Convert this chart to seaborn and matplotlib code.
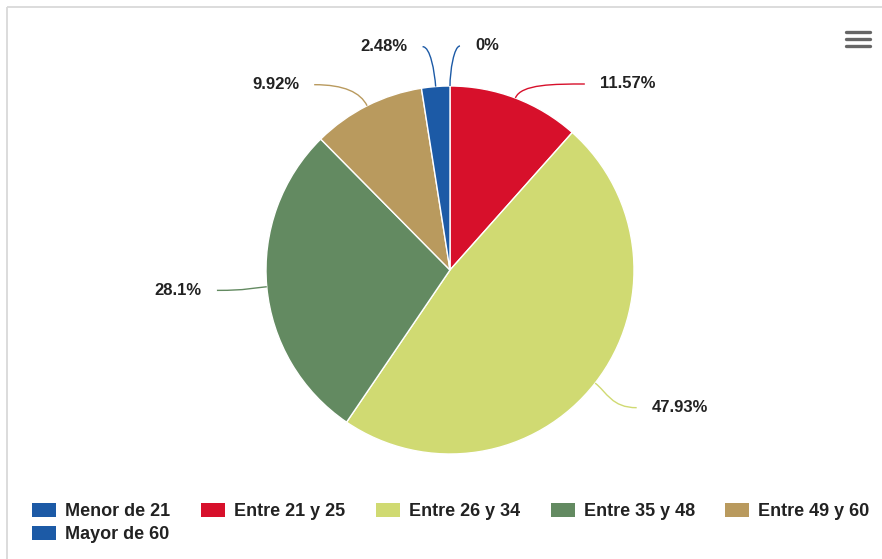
import numpy as np
import matplotlib
matplotlib.use("Agg")
import matplotlib.pyplot as plt
from matplotlib.patches import Patch, Rectangle, PathPatch
from matplotlib.path import Path
import seaborn as sns

# data
categories = ['Menor de 21', 'Entre 21 y 25', 'Entre 26 y 34',
              'Entre 35 y 48', 'Entre 49 y 60', 'Mayor de 60']
shares = [0.0, 11.57, 47.93, 28.1, 9.92, 2.48]
share_labels = ['0%', '11.57%', '47.93%', '28.1%', '9.92%', '2.48%']
slice_colors = ['#1c5aa6', '#d7102b', '#d0da72', '#638a61', '#b99a5e', '#1c5aa6']

sns.set_theme(style='white')
plt.rcParams['font.family'] = ['Liberation Sans', 'DejaVu Sans']

W, H = 882, 559
fig = plt.figure(figsize=(W / 100, H / 100), dpi=100)
ax = fig.add_axes([0, 0, 1, 1])

palette = sns.color_palette(slice_colors)
cx, cy, r = 450, 270, 184

# y axis is flipped (pixel-like coords), so counterclock=True draws clockwise on screen
wedges, _ = ax.pie(shares, colors=palette, center=(cx, cy), radius=r,
                   startangle=-90, counterclock=True,
                   wedgeprops=dict(edgecolor='white', linewidth=1.0))
ax.set_xlim(0, W)
ax.set_ylim(H, 0)
ax.set_aspect('auto')
ax.axis('off')

# data labels, highcharts-like placement
R = r + 40
min_gap = 38
info = []
for i, w in enumerate(wedges):
    m = np.deg2rad((w.theta1 + w.theta2) / 2)
    from_top = (np.rad2deg(m) + 90) % 360
    side = 1 if from_top < 180 else -1
    info.append(dict(i=i, m=m, side=side, y=cy + R * np.sin(m)))

for side in (1, -1):
    prev = -1e9
    for d in sorted([d for d in info if d['side'] == side], key=lambda d: d['y']):
        d['y'] = max(d['y'], prev + min_gap)
        prev = d['y']

for d in info:
    i, m, side, y = d['i'], d['m'], d['side'], d['y']
    dy = y - cy
    xe = cx + side * np.sqrt(max(R ** 2 - dy ** 2, 0))
    tx = xe + side * 25
    p0 = np.array([cx + r * np.cos(m), cy + r * np.sin(m)])
    end = np.array([tx - side * 15, y])
    c1 = p0 + 15 * np.array([np.cos(m), np.sin(m)])
    c2 = end - side * np.array([min(30, abs(end[0] - p0[0]) * 0.6), 0])
    path = Path([p0, c1, c2, end], [Path.MOVETO, Path.CURVE4, Path.CURVE4, Path.CURVE4])
    ax.add_patch(PathPatch(path, facecolor='none', edgecolor=slice_colors[i], lw=1.0))
    ax.text(tx, y, share_labels[i], ha='left' if side > 0 else 'right', va='center',
            fontsize=12, fontweight='bold', color='#222222')

# legend: first column holds the two blue entries, like the reference
order = [0, 5, 1, 2, 3, 4]
handles = [Patch(facecolor=slice_colors[k], edgecolor='none') for k in order]
ax.legend(handles, [categories[k] for k in order], ncol=5,
          loc='upper left', bbox_to_anchor=(32, 503), bbox_transform=ax.transData,
          frameon=False, borderpad=0, borderaxespad=0,
          prop=dict(size=13, weight='bold'), labelcolor='#222222',
          handlelength=1.33, handleheight=0.83, handletextpad=0.5,
          columnspacing=1.7, labelspacing=0.3)

# chart frame and menu icon
ax.add_patch(Rectangle((7, 7), 1000, 1000, facecolor='none', edgecolor='#d9d9d9', lw=1.3))
for yy in (32, 39, 46):
    ax.plot([846, 870], [yy, yy], color='#666666', lw=2.4, solid_capstyle='round')

fig.savefig('out.png', dpi=100)
